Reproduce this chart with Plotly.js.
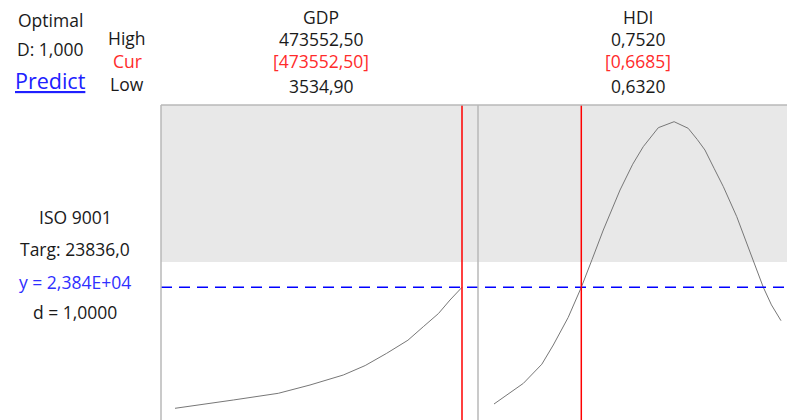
<!DOCTYPE html>
<html>
<head>
<meta charset="utf-8">
<script src="https://cdn.plot.ly/plotly-3.0.1.min.js"></script>
<style>html,body{margin:0;padding:0;background:#fff;}#chart{width:787px;height:420px;}</style>
</head>
<body>
<div id="chart"></div>
<script>
// ---- data ----
const factorNames = ["GDP", "HDI"];
const highLabels = ["473552,50", "0,7520"];
const curLabels = ["[473552,50]", "[0,6685]"];
const lowLabels = ["3534,90", "0,6320"];
const lowValues = [3534.9, 0.632];
const highValues = [473552.5, 0.752];
const curValues = [473552.5, 0.6685];

const gdpX = [3534.9, 44477, 99012, 172705, 224624, 279159, 315000, 350235, 385000, 410176, 435000, 453900, 473552.5];
const gdpY = [5686, 6181, 6931, 7936, 9181, 10681, 12100, 13936, 15900, 17926, 19900, 21931, 23836];

const hdiX = [0.632, 0.6443, 0.6520, 0.6568, 0.6630, 0.6685, 0.6730, 0.6777, 0.6847, 0.6900, 0.6944, 0.7007, 0.7073, 0.7132, 0.7170, 0.7202, 0.7240, 0.7279, 0.7335, 0.7404, 0.7446, 0.7480, 0.752];
const hdiY = [6331, 9436, 12300, 15181, 19300, 23836, 28000, 32431, 38431, 42300, 44926, 47776, 48676, 47686, 46000, 44431, 41700, 38926, 34426, 27931, 23836, 21200, 18826];

const responseName = "ISO 9001";
const targetLabel = "Targ: 23836,0";
const predLabel = "y = 2,384E+04";
const dLabel = "d = 1,0000";
const targetValue = 23836;
const shadeBottom = 27631;
const yRange = [3931, 51181];

// ---- layout geometry ----
const W = 787, H = 420, L = 161, T = 105;
const plotW = W - L, plotH = H - T;
const padL = 14 / 287, padR = 303 / 287, padR2 = 293 / 287, padL2 = 16 / 287;
function xr(i, a, b) { const s = highValues[i] - lowValues[i]; return [lowValues[i] - a * s, lowValues[i] + b * s]; }
const split = (478 - L) / plotW;
const px = p => (p - L) / plotW;
const py = p => (H - p) / plotH;

const textColor = "#1a1a1a";
const red = "#ff2b2b";
const blue = "#2f2fff";
const font = "Open Sans, Noto Sans, sans-serif";

const traces = [
  {x: gdpX, y: gdpY, xaxis: "x", yaxis: "y", mode: "lines", line: {color: "#777777", width: 1}, hoverinfo: "skip"},
  {x: hdiX, y: hdiY, xaxis: "x2", yaxis: "y", mode: "lines", line: {color: "#777777", width: 1}, hoverinfo: "skip"}
];

const shapes = [
  {type: "rect", xref: "paper", yref: "y", x0: 0, x1: 1, y0: shadeBottom, y1: yRange[1], fillcolor: "#e8e8e8", line: {width: 0}, layer: "below"},
  {type: "line", xref: "paper", yref: "y", x0: 0, x1: 1, y0: targetValue, y1: targetValue, line: {color: "#0000ff", width: 1.5, dash: "11px,7px"}},
  {type: "line", xref: "x", yref: "paper", x0: curValues[0], x1: curValues[0], y0: 0, y1: 1, line: {color: "#ff0000", width: 1.5}},
  {type: "line", xref: "x2", yref: "paper", x0: curValues[1], x1: curValues[1], y0: 0, y1: 1, line: {color: "#ff0000", width: 1.5}},
  {type: "line", xref: "paper", yref: "paper", x0: 0, x1: 1, y0: 1, y1: 1, line: {color: "#b8b8b8", width: 1.5}},
  {type: "line", xref: "paper", yref: "paper", x0: 0, x1: 0, y0: 0, y1: 1, line: {color: "#b8b8b8", width: 1.5}},
  {type: "line", xref: "paper", yref: "paper", x0: split, x1: split, y0: 0, y1: 1, line: {color: "#b8b8b8", width: 1.5}}
];

function ann(text, x, y, color, size, extra) {
  return Object.assign({text: text, xref: "paper", yref: "paper", x: px(x), y: py(y), xanchor: "center", yanchor: "middle", showarrow: false, font: {family: font, size: size || 17.5, color: color || textColor}}, extra || {});
}

const colCenters = [321, 638];
const annotations = [
  ann("Optimal", 50, 20),
  ann("D: 1,000", 50, 49),
  ann("<u>Predict</u>", 50, 80, "#2020ff", 21.5),
  ann("High", 127, 38),
  ann("Cur", 127, 61, red),
  ann("Low", 127, 84),
  ann(responseName, 75, 217),
  ann(targetLabel, 75, 249),
  ann(predLabel, 75, 282, blue),
  ann(dLabel, 75, 312)
];
factorNames.forEach((n, i) => {
  annotations.push(ann(n, colCenters[i], 17));
  annotations.push(ann(highLabels[i], colCenters[i], 39));
  annotations.push(ann(curLabels[i], colCenters[i], 61, red));
  annotations.push(ann(lowLabels[i], colCenters[i], 86));
});

const layout = {
  width: W, height: H,
  margin: {l: L, r: 0, t: T, b: 0, pad: 0},
  paper_bgcolor: "#ffffff", plot_bgcolor: "rgba(0,0,0,0)",
  showlegend: false,
  xaxis: {domain: [0, split], range: xr(0, padL, padR), visible: false, fixedrange: true},
  xaxis2: {domain: [split, 1], range: xr(1, padL2, padR2), visible: false, fixedrange: true},
  yaxis: {range: yRange, visible: false, fixedrange: true},
  shapes: shapes,
  annotations: annotations
};

Plotly.newPlot("chart", traces, layout, {displayModeBar: false, staticPlot: true});
</script>
</body>
</html>
